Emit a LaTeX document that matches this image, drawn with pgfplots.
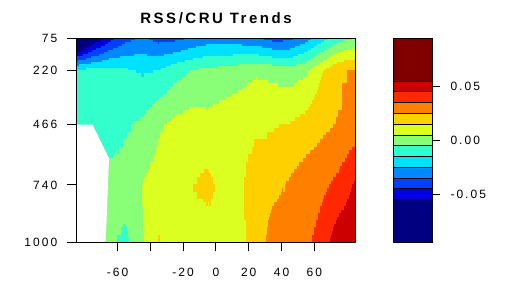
\documentclass[border=0pt]{standalone}
\usepackage{pgfplots}
\pgfplotsset{compat=1.18}
\usepgfplotslibrary{patchplots}
\usepackage{pgfplotstable}
\usepackage{fontspec}
\setmainfont{Liberation Sans}[LetterSpace=17]
\definecolor{c1}{RGB}{0,0,128}
\definecolor{c2}{RGB}{0,0,224}
\definecolor{c3}{RGB}{0,64,255}
\definecolor{c4}{RGB}{0,136,255}
\definecolor{c5}{RGB}{0,224,255}
\definecolor{c6}{RGB}{51,255,204}
\definecolor{c7}{RGB}{136,255,119}
\definecolor{c8}{RGB}{220,255,34}
\definecolor{c9}{RGB}{255,208,0}
\definecolor{c10}{RGB}{255,128,0}
\definecolor{c11}{RGB}{255,40,0}
\definecolor{c12}{RGB}{204,0,0}
\definecolor{c13}{RGB}{128,0,0}

\pgfplotstableread{
lat p v
-85 75 -0.090
-75 75 -0.064
-65 75 -0.048
-55 75 -0.038
-45 75 -0.033
-35 75 -0.038
-25 75 -0.037
-15 75 -0.033
-5 75 -0.030
5 75 -0.029
15 75 -0.031
25 75 -0.033
35 75 -0.038
45 75 -0.037
55 75 -0.028
65 75 -0.018
75 75 -0.008
85 75 -0.004
-85 220 -0.011
-75 220 -0.011
-65 220 -0.011
-55 220 -0.013
-45 220 -0.016
-35 220 -0.0145
-25 220 -0.0087
-15 220 -0.0045
-5 220 -0.0018
5 220 -0.0014
15 220 0.0014
25 220 0.0039
35 220 0.0024
45 220 0.0000
55 220 0.0040
65 220 0.0150
75 220 0.0240
85 220 0.0270
-85 466 -0.012
-75 466 -0.012
-65 466 -0.010
-55 466 -0.006
-45 466 -0.003
-35 466 0.004
-25 466 0.008
-15 466 0.010
-5 466 0.008
5 466 0.011
15 466 0.012
25 466 0.0135
35 466 0.0145
45 466 0.016
55 466 0.019
65 466 0.023
75 466 0.026
85 466 0.030
-85 740 -0.005
-75 740 -0.003
-65 740 -0.001
-55 740 0.000
-45 740 0.0055
-35 740 0.010
-25 740 0.012
-15 740 0.0148
-5 740 0.0178
5 740 0.011
15 740 0.014
25 740 0.021
35 740 0.022
45 740 0.0265
55 740 0.031
65 740 0.033
75 740 0.038
85 740 0.047
-85 1000 -0.004
-75 1000 -0.004
-65 1000 -0.004
-55 1000 -0.008
-45 1000 0.004
-35 1000 0.016
-25 1000 0.011
-15 1000 0.010
-5 1000 0.0095
5 1000 0.011
15 1000 0.013
25 1000 0.019
35 1000 0.031
45 1000 0.033
55 1000 0.033
65 1000 0.040
75 1000 0.052
85 1000 0.054
}\trenddata

\pgfplotsset{
  rsscolors/.style={
    colormap={rss}{
      rgb255(0pt)=(0,0,128) rgb255(40pt)=(0,0,224) rgb255(50pt)=(0,64,255)
      rgb255(60pt)=(0,136,255) rgb255(70pt)=(0,224,255) rgb255(80pt)=(51,255,204)
      rgb255(90pt)=(136,255,119) rgb255(100pt)=(220,255,34) rgb255(110pt)=(255,208,0)
      rgb255(120pt)=(255,128,0) rgb255(130pt)=(255,40,0) rgb255(140pt)=(204,0,0)
      rgb255(150pt)=(128,0,0) rgb255(190pt)=(128,0,0)
    },
    colormap access=piecewise constant,
  },
}

\begin{document}
\begin{tikzpicture}
\useasboundingbox (0bp,0bp) rectangle (508bp,298bp);
\begin{axis}[
  at={(76.5bp,55.7bp)}, anchor=south west,
  scale only axis, width=278.8bp, height=204bp,
  view={0}{90}, enlargelimits=false,
  xmin=-85, xmax=85, ymin=75, ymax=1000, zmin=-1, zmax=1,
  y dir=reverse,
  rsscolors, point meta min=-0.095, point meta max=0.095,
  xtick={-60,-40,-20,0,20,40,60},
  xticklabels={-60,,-20,0,20,40,60},
  ytick={75,220,466,740,1000},
  yticklabels={75,220,466,740,1000},
  ztick=\empty,
  tick pos=left, tick align=outside,
  major tick length=9bp,
  tick style={black, line width=1bp},
  axis line style={black, line width=1bp},
  ticklabel style={font=\fontsize{12bp}{14bp}\selectfont, inner sep=0pt},
  xticklabel style={yshift=-17bp},
  yticklabel style={xshift=-10bp},
  axis on top,
]
\addplot3[surf, shader=interp, patch type=bilinear, mesh/cols=18, point meta=\thisrow{v}]
  table[x=lat, y=p, z expr=0] {\trenddata};
\addplot3[fill=white, draw=none] coordinates {
  (-85,466,0) (-75.3,466,0) (-65.2,619,0) (-67.2,1000,0) (-85,1000,0)} --cycle;
\end{axis}

\begin{axis}[
  at={(393.3bp,55.7bp)}, anchor=south west,
  scale only axis, width=39bp, height=204bp,
  xmin=0, xmax=1, ymin=-0.0945, ymax=0.0945,
  scaled y ticks=false,
  xtick=\empty,
  ytick={-0.05,0,0.05}, yticklabels={-0.05,0.00,0.05},
  ytick pos=right, yticklabel pos=right, tick align=outside,
  major tick length=8bp,
  tick style={black, line width=1bp},
  axis line style={black, line width=1bp},
  yticklabel style={font=\fontsize{12bp}{14bp}\selectfont, inner sep=0pt, anchor=west, xshift=10bp},
  axis on top,
]
\addplot[fill=c1, draw=black, line width=0.8bp] coordinates {(0,-0.0945) (1,-0.0945) (1,-0.055) (0,-0.055)} --cycle;
\addplot[fill=c2, draw=black, line width=0.8bp] coordinates {(0,-0.055) (1,-0.055) (1,-0.045) (0,-0.045)} --cycle;
\addplot[fill=c3, draw=black, line width=0.8bp] coordinates {(0,-0.045) (1,-0.045) (1,-0.035) (0,-0.035)} --cycle;
\addplot[fill=c4, draw=black, line width=0.8bp] coordinates {(0,-0.035) (1,-0.035) (1,-0.025) (0,-0.025)} --cycle;
\addplot[fill=c5, draw=black, line width=0.8bp] coordinates {(0,-0.025) (1,-0.025) (1,-0.015) (0,-0.015)} --cycle;
\addplot[fill=c6, draw=black, line width=0.8bp] coordinates {(0,-0.015) (1,-0.015) (1,-0.005) (0,-0.005)} --cycle;
\addplot[fill=c7, draw=black, line width=0.8bp] coordinates {(0,-0.005) (1,-0.005) (1,0.005) (0,0.005)} --cycle;
\addplot[fill=c8, draw=black, line width=0.8bp] coordinates {(0,0.005) (1,0.005) (1,0.015) (0,0.015)} --cycle;
\addplot[fill=c9, draw=black, line width=0.8bp] coordinates {(0,0.015) (1,0.015) (1,0.025) (0,0.025)} --cycle;
\addplot[fill=c10, draw=black, line width=0.8bp] coordinates {(0,0.025) (1,0.025) (1,0.035) (0,0.035)} --cycle;
\addplot[fill=c11, draw=black, line width=0.8bp] coordinates {(0,0.035) (1,0.035) (1,0.045) (0,0.045)} --cycle;
\addplot[fill=c12, draw=black, line width=0.8bp] coordinates {(0,0.045) (1,0.045) (1,0.055) (0,0.055)} --cycle;
\addplot[fill=c13, draw=black, line width=0.8bp] coordinates {(0,0.055) (1,0.055) (1,0.0945) (0,0.0945)} --cycle;
\end{axis}

\node[anchor=base, font=\fontsize{15bp}{18bp}\selectfont\bfseries] at (216bp,274bp) {RSS/CRU Trends};
\end{tikzpicture}
\end{document}
